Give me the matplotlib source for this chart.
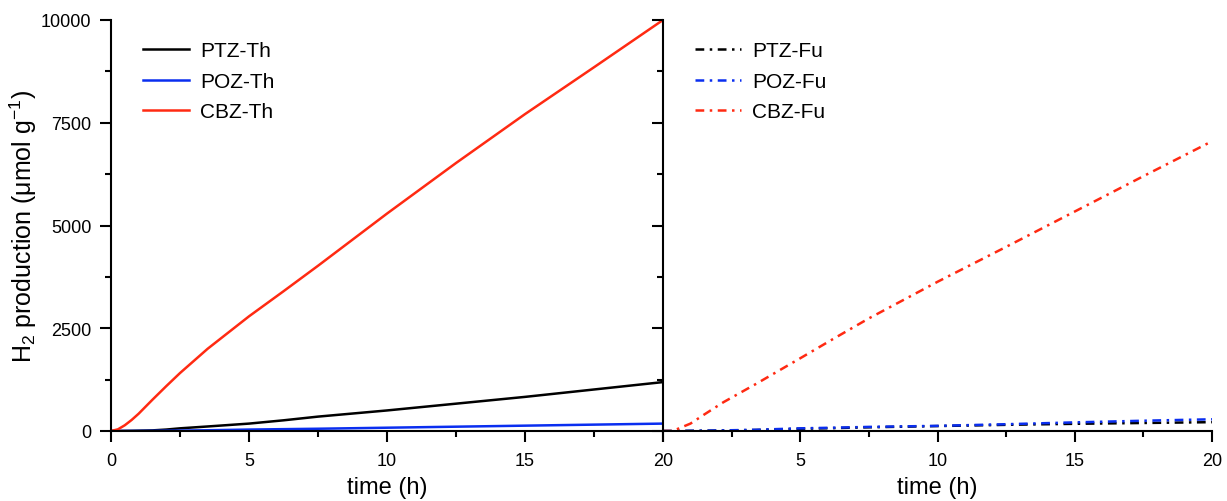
import matplotlib
matplotlib.use("Agg")
import matplotlib.pyplot as plt
from matplotlib.ticker import MultipleLocator

plt.rcParams['font.family'] = ['Liberation Sans', 'DejaVu Sans']
plt.rcParams['mathtext.fontset'] = 'custom'
plt.rcParams['mathtext.rm'] = 'Liberation Sans'
plt.rcParams['mathtext.it'] = 'Liberation Sans:italic'

# --- data ---
t_th = [0, 0.25, 0.5, 0.75, 1, 1.5, 2, 2.5, 3.5, 5, 6.25, 7.5, 10, 12.5, 15, 17.5, 20]
ptz_th = [0, 1, 3, 5, 8, 15, 35, 65, 110, 180, 260, 350, 500, 665, 830, 1010, 1190]
poz_th = [0, 0, 1, 1, 2, 4, 7, 10, 18, 35, 45, 55, 80, 105, 130, 155, 180]
cbz_th = [0, 40, 140, 270, 420, 760, 1090, 1410, 2000, 2790, 3400, 4020, 5290, 6520, 7710, 8850, 10000]

t_fu = [0, 0.35, 1, 1.5, 2.2, 3.4, 5, 6.2, 7.5, 10, 12.5, 15, 17.5, 20]
ptz_fu = [0, 0, 3, 6, 12, 25, 55, 70, 90, 120, 150, 175, 195, 215]
poz_fu = [0, 0, 4, 8, 15, 30, 65, 80, 100, 125, 165, 210, 250, 285]
cbz_fu = [0, 0, 180, 400, 700, 1150, 1770, 2240, 2740, 3630, 4480, 5340, 6200, 7050]

labels_th = ["PTZ-Th", "POZ-Th", "CBZ-Th"]
labels_fu = ["PTZ-Fu", "POZ-Fu", "CBZ-Fu"]
colors = ["#000000", "#0a2ef0", "#ff2a12"]

fig = plt.figure(figsize=(12.27, 5.02), dpi=100)
ax1 = fig.add_axes([111/1227, 70/502, 552/1227, 411/502])
ax2 = fig.add_axes([663/1227, 70/502, 549/1227, 411/502])

lw = 1.8
dashdot = (0, (3.5, 2.2, 1.0, 2.2))

for y, lab, c in zip([ptz_th, poz_th, cbz_th], labels_th, colors):
    ax1.plot(t_th, y, color=c, lw=lw, label=lab)
for y, lab, c in zip([ptz_fu, poz_fu, cbz_fu], labels_fu, colors):
    ax2.plot(t_fu, y, color=c, lw=lw, ls=dashdot, label=lab)

for ax in (ax1, ax2):
    ax.set_xlim(0, 20)
    ax.set_ylim(0, 10000)
    ax.spines['top'].set_visible(False)
    ax.spines['right'].set_visible(False)
    for s in ('left', 'bottom'):
        ax.spines[s].set_linewidth(1.5)
    ax.xaxis.set_major_locator(MultipleLocator(5))
    ax.xaxis.set_minor_locator(MultipleLocator(2.5))
    ax.yaxis.set_major_locator(MultipleLocator(2500))
    ax.yaxis.set_minor_locator(MultipleLocator(1250))
    ax.tick_params(which='major', direction='out', length=8, width=1.5, labelsize=13, pad=6)
    ax.tick_params(axis='x', which='major', pad=7)
    ax.tick_params(which='minor', direction='out', length=4, width=1.5)
    ax.set_xlabel("time (h)", fontsize=17, labelpad=5)
    ax.legend(frameon=False, loc='upper left', bbox_to_anchor=(0.058, 0.948),
              fontsize=15, handlelength=2.2, handletextpad=0.55,
              labelspacing=0.55, borderpad=0, borderaxespad=0)

ax2.tick_params(axis='y', labelleft=False)
ax2.set_xticks([0, 5, 10, 15, 20])
ax2.set_xticklabels(["", "5", "10", "15", "20"])
ax2.patch.set_alpha(0)

ax1.set_ylabel("H$_2$ production (μmol g$^{-1}$)", fontsize=18)
ax1.yaxis.set_label_coords(-0.13, 0.5)

fig.savefig("out.png", dpi=100)
